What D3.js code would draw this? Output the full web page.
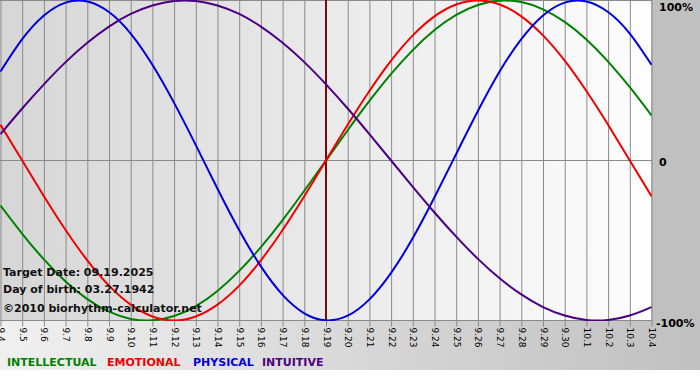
<!DOCTYPE html>
<html>
<head>
<meta charset="UTF-8">
<title>Biorhythm chart</title>
<script src="https://d3js.org/d3.v7.min.js"></script>
<style>
    body { margin: 0; background: #fff; }
    svg text { font-family: "DejaVu Sans", Verdana, sans-serif; }
</style>
</head>
<body>
<div id="chart"></div>
<script>
    // days shown on the x axis (9.4 .. 10.4)
    var days = ["9.4", "9.5", "9.6", "9.7", "9.8", "9.9", "9.10", "9.11", "9.12", "9.13", "9.14", "9.15",
        "9.16", "9.17", "9.18", "9.19", "9.20", "9.21", "9.22", "9.23", "9.24", "9.25", "9.26", "9.27",
        "9.28", "9.29", "9.30", "10.1", "10.2", "10.3", "10.4"];

    // values per day, -1 .. 1
    var intellectual = [-0.282, -0.458, -0.618, -0.756, -0.866, -0.945, -0.990, -0.999, -0.972, -0.910, -0.815, -0.690,
        -0.541, -0.372, -0.189, 0.000, 0.189, 0.372, 0.541, 0.690, 0.815, 0.910, 0.972, 0.999,
        0.990, 0.945, 0.866, 0.756, 0.618, 0.458, 0.282];
    var emotional = [0.223, 0.000, -0.223, -0.434, -0.624, -0.782, -0.901, -0.975, -1.000, -0.975, -0.901, -0.782,
        -0.624, -0.434, -0.223, 0.000, 0.223, 0.434, 0.624, 0.782, 0.901, 0.975, 1.000, 0.975,
        0.901, 0.782, 0.624, 0.434, 0.223, 0.000, -0.223];
    var physical = [0.556, 0.758, 0.906, 0.987, 0.994, 0.928, 0.793, 0.598, 0.360, 0.096, -0.177, -0.436,
        -0.662, -0.840, -0.955, -0.999, -0.970, -0.868, -0.702, -0.485, -0.230, 0.041, 0.309, 0.556,
        0.758, 0.906, 0.987, 0.994, 0.928, 0.793, 0.598];
    var intuitive = [0.165, 0.325, 0.476, 0.615, 0.736, 0.837, 0.916, 0.969, 0.997, 0.997, 0.969, 0.916,
        0.837, 0.736, 0.615, 0.476, 0.325, 0.165, 0.000, -0.165, -0.325, -0.476, -0.615, -0.736,
        -0.837, -0.916, -0.969, -0.997, -0.997, -0.969, -0.916];

    var targetDay = "9.19";
    var yTicks = [1, 0, -1];
    var yTickLabels = ["100%", "0", "-100%"];

    var series = [
        { name: "INTELLECTUAL", values: intellectual, color: "#008000" },
        { name: "EMOTIONAL", values: emotional, color: "#f00000" },
        { name: "PHYSICAL", values: physical, color: "#0000dd" },
        { name: "INTUITIVE", values: intuitive, color: "#4b0082" }
    ];

    var width = 700, height = 380;
    var plotW = 651, plotH = 321;

    var svg = d3.select("#chart").append("svg")
        .attr("width", width)
        .attr("height", height);

    var defs = svg.append("defs");
    var g1 = defs.append("linearGradient").attr("id", "plotBg");
    g1.append("stop").attr("offset", "0%").attr("stop-color", "#d6d6d6");
    g1.append("stop").attr("offset", "100%").attr("stop-color", "#fdfdfd");
    var g2 = defs.append("linearGradient").attr("id", "bottomBg");
    g2.append("stop").attr("offset", "0%").attr("stop-color", "#f0f0f0");
    g2.append("stop").attr("offset", "100%").attr("stop-color", "#c0c0c0");

    // panels
    svg.append("rect").attr("x", 0).attr("y", plotH).attr("width", width).attr("height", 49)
        .attr("fill", "url(#bottomBg)");
    svg.append("rect").attr("x", plotW).attr("y", 0).attr("width", width - plotW).attr("height", plotH)
        .attr("fill", "#c0c0c0");
    svg.append("rect").attr("x", 0).attr("y", 0).attr("width", plotW).attr("height", plotH)
        .attr("fill", "url(#plotBg)");

    var x = d3.scalePoint().domain(days).range([0.5, plotW + 0.5]);
    var y = d3.scaleLinear().domain([-1, 1]).range([plotH - 0.5, 0.5]);

    // x axis with grid lines
    var xAxis = svg.append("g")
        .attr("transform", "translate(0," + (plotH - 0.5) + ")")
        .call(d3.axisBottom(x).tickSize(6).tickPadding(0));
    xAxis.select(".domain").remove();
    xAxis.selectAll(".tick line")
        .attr("y1", -(plotH - 0.5))
        .attr("y2", 6)
        .attr("stroke", "#8a8a8a");
    xAxis.selectAll(".tick text")
        .attr("transform", "translate(0,7) rotate(90)")
        .attr("x", 0).attr("y", 0).attr("dy", "0.33em")
        .attr("text-anchor", "start")
        .attr("font-size", "9px")
        .attr("font-family", "DejaVu Sans")
        .attr("fill", "#000");

    // horizontal lines
    svg.append("g").selectAll("line")
        .data(yTicks)
        .enter().append("line")
        .attr("x1", 0).attr("x2", plotW + 1)
        .attr("y1", function (d) { return y(d); })
        .attr("y2", function (d) { return y(d); })
        .attr("stroke", "#8a8a8a");

    // y labels on the right
    svg.append("g").selectAll("text")
        .data(yTicks)
        .enter().append("text")
        .attr("x", function (d, i) { return i == 2 ? 656 : 659; })
        .attr("y", function (d) { return y(d) + 5; })
        .attr("dy", function (d, i) { return i == 0 ? 5 : (i == 2 ? 1 : 0); })
        .attr("font-size", "11px")
        .attr("font-weight", "bold")
        .attr("fill", "#000")
        .text(function (d, i) { return yTickLabels[i]; });

    // target date line
    svg.append("line")
        .attr("x1", x(targetDay)).attr("x2", x(targetDay))
        .attr("y1", 0).attr("y2", plotH)
        .attr("stroke", "#7a0a0a")
        .attr("stroke-width", 2);

    // curves
    var line = d3.line()
        .x(function (d, i) { return x(days[i]); })
        .y(function (d) { return y(d); })
        .curve(d3.curveNatural);

    var clip = defs.append("clipPath").attr("id", "plotClip");
    clip.append("rect").attr("x", 0).attr("y", 0).attr("width", plotW + 1).attr("height", plotH);

    svg.append("g").attr("clip-path", "url(#plotClip)")
        .selectAll("path")
        .data(series)
        .enter().append("path")
        .attr("d", function (d) { return line(d.values); })
        .attr("fill", "none")
        .attr("stroke", function (d) { return d.color; })
        .attr("stroke-width", 2);

    // info text
    var info = ["Target Date: 09.19.2025", "Day of birth: 03.27.1942", "\u00a92010 biorhythm-calculator.net"];
    var infoY = [276, 293, 312];
    svg.append("g").selectAll("text")
        .data(info)
        .enter().append("text")
        .attr("x", 3)
        .attr("y", function (d, i) { return infoY[i]; })
        .attr("font-size", "11px")
        .attr("font-weight", "bold")
        .attr("fill", "#111")
        .text(function (d) { return d; });

    // legend
    var legendX = [7, 107, 193, 262];
    svg.append("g").selectAll("text")
        .data(series)
        .enter().append("text")
        .attr("x", function (d, i) { return legendX[i]; })
        .attr("y", 366)
        .attr("font-size", "11px")
        .attr("font-weight", "bold")
        .attr("fill", function (d) { return d.color; })
        .text(function (d) { return d.name; });
</script>
</body>
</html>
